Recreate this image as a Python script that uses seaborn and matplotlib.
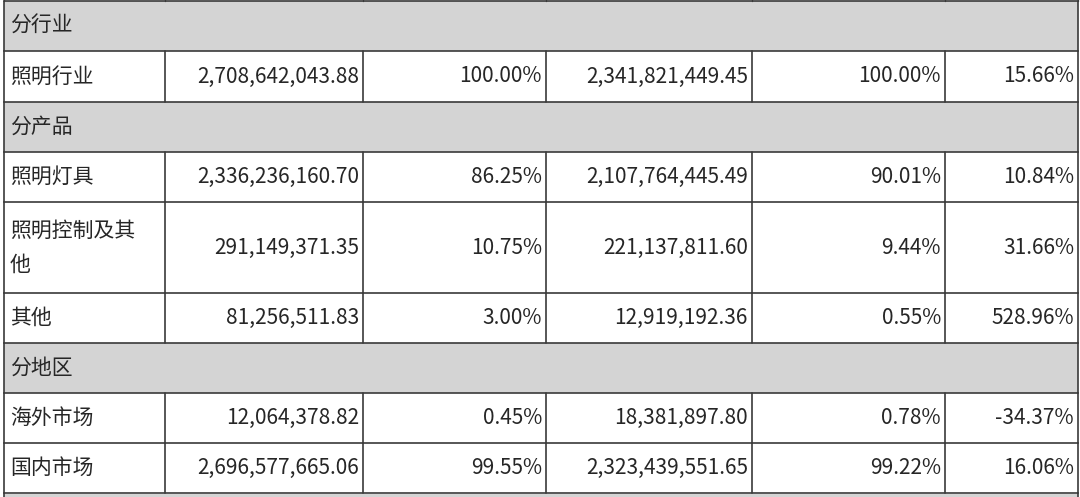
import matplotlib
matplotlib.use("Agg")
import matplotlib.pyplot as plt
import seaborn as sns

sns.set_theme(style="white")
plt.rcParams["font.family"] = ["Noto Sans CJK SC", "DejaVu Sans"]

# 数据
sections = ["分行业", "分产品", "分地区"]
row_names = ["照明行业", "照明灯具", "照明控制及其\n他", "其他", "海外市场", "国内市场"]
revenue = ["2,708,642,043.88", "2,336,236,160.70", "291,149,371.35", "81,256,511.83",
           "12,064,378.82", "2,696,577,665.06"]
revenue_pct = ["100.00%", "86.25%", "10.75%", "3.00%", "0.45%", "99.55%"]
last_year = ["2,341,821,449.45", "2,107,764,445.49", "221,137,811.60", "12,919,192.36",
             "18,381,897.80", "2,323,439,551.65"]
last_year_pct = ["100.00%", "90.01%", "9.44%", "0.55%", "0.78%", "99.22%"]
growth = ["15.66%", "10.84%", "31.66%", "528.96%", "-34.37%", "16.06%"]

# 布局（像素）
col_x = [4, 165, 363, 546, 752, 945, 1078]
# (类型, 行高)
layout = [("sec", 0), ("row", 0), ("sec", 1), ("row", 1), ("row", 2), ("row", 3),
          ("sec", 2), ("row", 4), ("row", 5)]
heights = [50, 51, 50, 50, 91, 50, 50, 50, 50]
top = 1
GRAY = "#d4d4d4"
LINE = "#3a3a3a"
FS = 15

fig = plt.figure(figsize=(10.8, 4.97), dpi=100)
ax = fig.add_axes([0, 0, 1, 1])
ax.set_xlim(0, 1080)
ax.set_ylim(497, 0)
ax.axis("off")

# 顶部残行和底部残行
for xx in col_x:
    ax.plot([xx, xx], [0, top], color=LINE, lw=1)
y = top
for (kind, idx), h in zip(layout, heights):
    y0, y1 = y, y + h
    if kind == "sec":
        ax.add_patch(plt.Rectangle((col_x[0], y0), col_x[-1] - col_x[0], h, color=GRAY, lw=0))
        ax.text(col_x[0] + 6, (y0 + y1) / 2, sections[idx], fontsize=FS, va="center", ha="left")
        for xx in (col_x[0], col_x[-1]):
            ax.plot([xx, xx], [y0, y1], color=LINE, lw=1.2)
    else:
        for xx in col_x:
            ax.plot([xx, xx], [y0, y1], color=LINE, lw=1.2)
        ax.text(col_x[0] + 6, (y0 + y1) / 2, row_names[idx], fontsize=FS, va="center",
                ha="left", linespacing=1.7)
        vals = [revenue[idx], revenue_pct[idx], last_year[idx], last_year_pct[idx], growth[idx]]
        for c, v in enumerate(vals):
            ax.text(col_x[c + 2] - 4, (y0 + y1) / 2, v, fontsize=FS, va="center", ha="right")
    ax.plot([col_x[0], col_x[-1]], [y0, y0], color=LINE, lw=1.2)
    y = y1
ax.plot([col_x[0], col_x[-1]], [y, y], color=LINE, lw=1.2)
ax.add_patch(plt.Rectangle((col_x[0], y + 1), col_x[-1] - col_x[0], 497 - y, color=GRAY, lw=0))
ax.plot([col_x[0], col_x[0]], [y, 497], color=LINE, lw=1.2)
ax.plot([col_x[-1], col_x[-1]], [y, 497], color=LINE, lw=1.2)

fig.savefig("out.png", dpi=100)
